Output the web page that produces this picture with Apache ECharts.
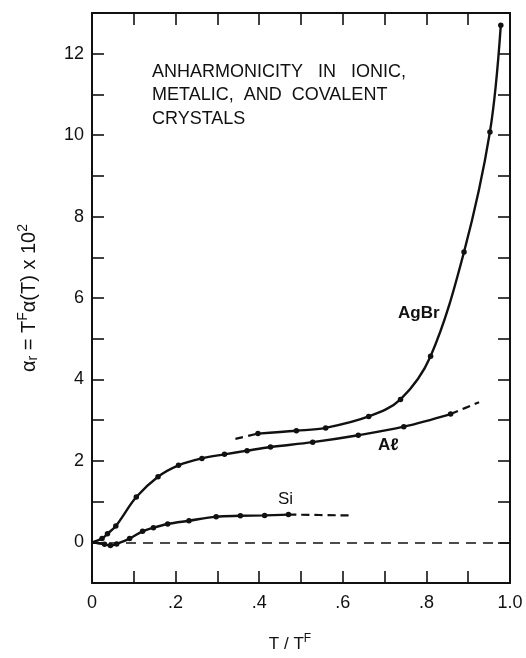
<!DOCTYPE html>
<html>
<head>
<meta charset="utf-8">
<script src="https://cdn.jsdelivr.net/npm/echarts@6/dist/echarts.min.js"></script>
<style>
  html, body { margin: 0; padding: 0; background: #fff; }
  #chart { width: 526px; height: 658px; }
</style>
</head>
<body>
<div id="chart"></div>
<script>
// values (T/T^F, alpha_r x 10^2)
const agbrT = [0.397, 0.489, 0.559, 0.662, 0.738, 0.810, 0.890, 0.952, 0.978];
const agbrA = [2.67, 2.74, 2.81, 3.09, 3.51, 4.57, 7.13, 10.08, 12.70];
const agbrDashT = [0.343, 0.397];
const agbrDashA = [2.54, 2.67];

const alT = [0.024, 0.037, 0.057, 0.106, 0.158, 0.207, 0.263, 0.317, 0.371, 0.427, 0.528, 0.637, 0.746, 0.858];
const alA = [0.09, 0.21, 0.40, 1.11, 1.61, 1.89, 2.06, 2.16, 2.25, 2.34, 2.46, 2.63, 2.84, 3.15];
const alDashT = [0.858, 0.926];
const alDashA = [3.15, 3.44];

const siT = [0.030, 0.044, 0.059, 0.090, 0.121, 0.147, 0.181, 0.232, 0.297, 0.355, 0.413, 0.470];
const siA = [-0.05, -0.08, -0.04, 0.09, 0.27, 0.36, 0.45, 0.53, 0.63, 0.65, 0.66, 0.68];
const siDashT = [0.470, 0.617];
const siDashA = [0.68, 0.66];

const xTickLabels = { 0: '0', 2: '.2', 4: '.4', 6: '.6', 8: '.8', 10: '1.0' };
const yTickLabels = [0, 2, 4, 6, 8, 10, 12];

const FONT = 'Liberation Sans';
const INK = '#111';
const pairs = (xs, ys) => xs.map((x, i) => [x, ys[i]]);
const withOrigin = (xs, ys) => [{ value: [0, 0], symbol: 'none' }].concat(pairs(xs, ys));

const chart = echarts.init(document.getElementById('chart'));

const solid = (data) => ({
  type: 'line',
  data: data,
  smooth: 0.35,
  symbol: 'circle',
  symbolSize: 5.5,
  itemStyle: { color: INK },
  lineStyle: { color: INK, width: 2.4 },
  silent: true,
  z: 3
});
const dashed = (data) => ({
  type: 'line',
  data: data,
  smooth: true,
  symbol: 'none',
  lineStyle: { color: INK, width: 2.2, type: [8, 5] },
  silent: true,
  z: 3
});

const sideAxisX = (pos, showLabel) => ({
  type: 'value',
  position: pos,
  min: 0,
  max: 1,
  interval: 0.1,
  axisLine: { show: true, onZero: false, lineStyle: { color: INK, width: 2 } },
  axisTick: { show: true, inside: true, length: 12, lineStyle: { color: INK, width: 1.6 } },
  axisLabel: {
    show: showLabel,
    margin: 11,
    color: INK,
    fontFamily: FONT,
    fontSize: 18,
    formatter: (v) => {
      const k = Math.round(v * 10);
      return xTickLabels[k] !== undefined ? xTickLabels[k] : '';
    }
  },
  splitLine: { show: false }
});
const sideAxisY = (pos, showLabel) => ({
  type: 'value',
  position: pos,
  min: -1,
  max: 13,
  interval: 1,
  axisLine: { show: true, onZero: false, lineStyle: { color: INK, width: 2 } },
  axisTick: { show: true, inside: true, length: 12, lineStyle: { color: INK, width: 1.6 } },
  axisLabel: {
    show: showLabel,
    margin: 8,
    color: INK,
    fontFamily: FONT,
    fontSize: 18,
    formatter: (v) => (yTickLabels.indexOf(v) >= 0 ? String(v) : '')
  },
  splitLine: { show: false }
});

const xBottom = sideAxisX('bottom', true);
xBottom.name = '{t|T / T}{s|F}';
xBottom.nameLocation = 'middle';
xBottom.nameGap = 50;
xBottom.nameTextStyle = {
  padding: [0, 22, 0, 0],
  rich: {
    t: { fontFamily: FONT, fontSize: 17, color: INK },
    s: { fontFamily: FONT, fontSize: 12, color: INK, padding: [0, 0, 11, 0] }
  }
};

const yLeft = sideAxisY('left', true);
yLeft.name = '{t|α}{b|r}{t| = T}{s|F}{t|α(T) x 10}{s|2}';
yLeft.nameLocation = 'middle';
yLeft.nameRotate = 90;
yLeft.nameGap = 50;
yLeft.nameTextStyle = {
  rich: {
    t: { fontFamily: FONT, fontSize: 20, color: INK },
    s: { fontFamily: FONT, fontSize: 14, color: INK, padding: [0, 0, 12, 0] },
    b: { fontFamily: FONT, fontSize: 14, color: INK, padding: [8, 0, 0, 0] }
  }
};

const option = {
  backgroundColor: '#fff',
  animation: false,
  grid: { left: 92, right: 16, top: 13, bottom: 71, containLabel: false },
  xAxis: [xBottom, sideAxisX('top', false)],
  yAxis: [yLeft, sideAxisY('right', false)],
  graphic: [
    {
      type: 'text', left: 152, top: 60,
      style: {
        text: 'ANHARMONICITY   IN   IONIC,\nMETALIC,  AND  COVALENT\nCRYSTALS',
        font: '18px "Liberation Sans"', fill: INK, lineHeight: 23.5
      }
    },
    { type: 'text', left: 398, top: 305, style: { text: 'AgBr', font: 'bold 17px "Liberation Sans"', fill: INK } },
    { type: 'text', left: 378, top: 437, style: { text: 'Aℓ', font: 'bold 17px "Liberation Sans"', fill: INK } },
    { type: 'text', left: 278, top: 491, style: { text: 'Si', font: '17px "Liberation Sans"', fill: INK } }
  ],
  series: [
    Object.assign(solid(pairs(agbrT, agbrA)), { name: 'AgBr' }),
    dashed(pairs(agbrDashT, agbrDashA)),
    Object.assign(solid(withOrigin(alT, alA)), { name: 'Al' }),
    dashed(pairs(alDashT, alDashA)),
    Object.assign(solid(withOrigin(siT, siA)), {
      name: 'Si',
      markLine: {
        silent: true,
        symbol: 'none',
        label: { show: false },
        lineStyle: { color: INK, width: 1.6, type: [10, 7] },
        data: [{ yAxis: 0 }]
      }
    }),
    dashed(pairs(siDashT, siDashA))
  ]
};

chart.setOption(option);
</script>
</body>
</html>
